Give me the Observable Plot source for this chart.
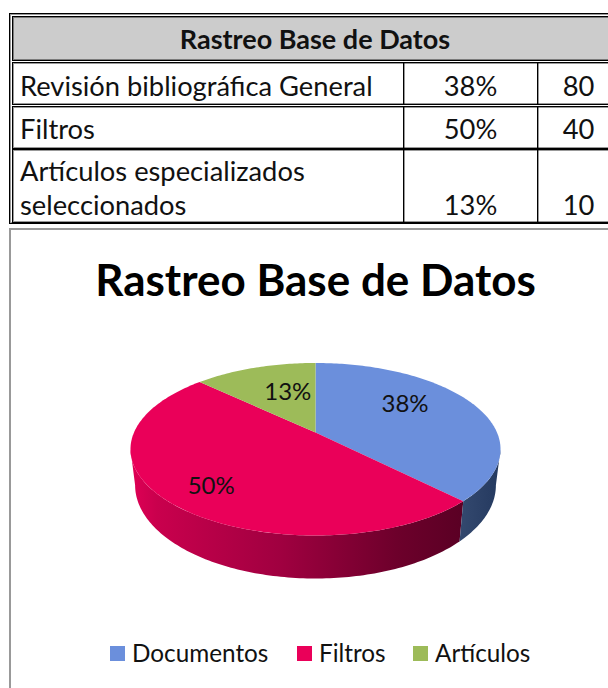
<!DOCTYPE html>
<html>
<head>
<meta charset="utf-8">
<script src="https://cdn.jsdelivr.net/npm/d3@7"></script>
<script src="https://cdn.jsdelivr.net/npm/@observablehq/plot@0.6"></script>
<style>
html,body{margin:0;padding:0;background:#fff;}
body{width:608px;height:688px;overflow:hidden;position:relative;font-family:Lato,"Open Sans",sans-serif;color:#111;}
#outer{position:absolute;left:9px;top:13px;width:640px;height:209px;border:1px solid #000;box-shadow:inset 0 0 0 1px rgba(0,0,0,.4);}
.row{position:absolute;left:12px;width:640px;box-sizing:border-box;border:1px solid #000;box-shadow:inset 0 0 0 1px rgba(0,0,0,.4);font-size:27.3px;}
.hdr{background:#ccc;text-align:center;font-weight:700;font-size:27px;line-height:44px;}
.hdr span{position:absolute;left:0;width:604px;}
.c{position:absolute;top:0;bottom:0;box-sizing:border-box;}
.lab{left:7px;width:380px;}
.pct{left:390px;width:134px;border-left:1px solid #000;box-shadow:inset 1px 0 0 rgba(0,0,0,.4);text-align:center;}
.num{left:524px;width:70px;border-left:1px solid #000;box-shadow:inset 1px 0 0 rgba(0,0,0,.4);text-align:center;padding-left:12px;}
.c span{position:absolute;left:0;right:0;bottom:0;line-height:34px;}
.num span{left:12px;}
#frame{position:absolute;left:9px;top:228px;width:640px;height:480px;border:2px solid #999;border-right:none;box-sizing:border-box;}
#title{position:absolute;left:0;top:249px;width:631px;text-align:center;font-weight:700;font-size:44px;line-height:60px;color:#000;}
#chart{position:absolute;left:0;top:320px;}
#legend{position:absolute;top:636px;left:0;height:34px;font-size:24.3px;line-height:34px;}
.sw{position:absolute;top:10px;width:15px;height:15px;}
.lt{position:absolute;top:0;white-space:nowrap;}
</style>
</head>
<body>
<div id="outer"></div>
<div id="frame"></div>
<div id="title"></div>
<div id="chart"></div>
<div id="legend"></div>
<script>
// ---- data ----
const chartTitle = "Rastreo Base de Datos";
const tableLabels = [["Revisión bibliográfica General"], ["Filtros"], ["Artículos especializados", "seleccionados"]];
const tablePercents = ["38%", "50%", "13%"];
const tableCounts = ["80", "40", "10"];
const categories = ["Documentos", "Filtros", "Artículos"];
const percents = [38, 50, 13];
const colors = ["#6b8fdc", "#ea0059", "#9dbb59"];

// ---- layout ----
const rowBoxes = [[62, 43, 1], [106, 43, 2], [149, 74, 0]];
const legendX = [[110, 132], [297, 319], [413, 435]];
const labelOffsets = [[-8, -10], [-22, 15], [10, 1]];
const tilt = 0.194;      // perspective of the disc
const depth = 0.418;     // thickness of the disc, in y units
const baseShrink = 0.975;

// ---- table ----
const el = (tag, cls, txt) => { const e = document.createElement(tag); if (cls) e.className = cls; if (txt != null) e.textContent = txt; return e; };
const hdr = el("div", "row hdr"); hdr.style.top = "16px"; hdr.style.height = "45px";
hdr.append(el("span", null, chartTitle)); document.body.append(hdr);
tableLabels.forEach((lines, i) => {
  const lift = rowBoxes[i][2];
  const r = el("div", "row"); r.style.top = rowBoxes[i][0] + "px"; r.style.height = rowBoxes[i][1] + "px";
  const a = el("div", "c lab"); lines.forEach((t, j) => { const s = el("span", null, t); s.style.bottom = ((lines.length - 1 - j) * 34 + lift) + "px"; a.append(s); });
  const p = el("div", "c pct"); const ps = el("span", null, tablePercents[i]); ps.style.bottom = lift + "px"; p.append(ps);
  const n = el("div", "c num"); const ns = el("span", null, tableCounts[i]); ns.style.bottom = lift + "px"; n.append(ns);
  r.append(a, p, n); document.body.append(r);
});
document.getElementById("title").textContent = chartTitle;

// ---- legend ----
const legend = document.getElementById("legend");
categories.forEach((c, i) => {
  const s = el("div", "sw"); s.style.left = legendX[i][0] + "px"; s.style.background = colors[i];
  const t = el("div", "lt", c); t.style.left = legendX[i][1] + "px";
  legend.append(s, t);
});

// ---- pie geometry: slices come from the values, projected onto a tilted disc ----
const slices = d3.pie().sort(null)(percents);
const project = (theta, r = 1) => {
  const w = 1 + tilt * r * Math.cos(theta);
  return { x: r * Math.sin(theta) / w, y: -r * Math.cos(theta) / w, w };
};
const deg = Math.PI / 180;
const arcAngles = (a0, a1) => { const n = Math.ceil(Math.abs(a1 - a0) / deg); return d3.range(n + 1).map(i => a0 + (a1 - a0) * i / n); };

const tops = [];
slices.forEach((s, i) => {
  tops.push({ name: categories[i], x: 0, y: 0 });
  arcAngles(s.startAngle, s.endAngle).forEach(t => { const p = project(t); tops.push({ name: categories[i], x: p.x, y: p.y }); });
});

const silhouette = Math.acos(-tilt);              // angle of the rightmost point of the rim
const sideBand = (a0, a1, name) => {
  const as = arcAngles(a0, a1);
  const top = as.map(t => { const p = project(t); return { name, x: p.x, y: p.y }; });
  const bot = as.slice().reverse().map(t => { const p = project(t); return { name, x: p.x * baseShrink, y: p.y + depth / p.w }; });
  return top.concat(bot);
};
const blueSide = sideBand(silhouette, slices[0].endAngle, categories[0]);
const redSide = sideBand(slices[1].startAngle, 2 * Math.PI - silhouette, categories[1]);

const labels = slices.map((s, i) => {
  const p = project((s.startAngle + s.endAngle) / 2, 0.6);
  return { x: p.x, y: p.y, text: percents[i] + "%", dx: labelOffsets[i][0], dy: labelOffsets[i][1] };
});

const gradient = (id, stops) => () => {
  const d = d3.create("svg:defs");
  const g = d.append("linearGradient").attr("id", id);
  stops.forEach(([o, c]) => g.append("stop").attr("offset", o).attr("stop-color", c));
  return d.node();
};

const plot = Plot.plot({
  width: 608, height: 280,
  marginTop: 0, marginRight: 0, marginBottom: 0, marginLeft: 0,
  x: { domain: [-1, 1], range: [133.5, 496.5], axis: null },
  y: { domain: [-1, 1], range: [29, 195], axis: null },
  color: { type: "ordinal", domain: categories, range: colors },
  marks: [
    gradient("redSide", [[0, "#e00055"], [0.08, "#c9004d"], [0.45, "#a00040"], [0.8, "#6d002b"], [1, "#5a0024"]]),
    gradient("blueSide", [[0, "#34496f"], [1, "#24395f"]]),
    Plot.line(redSide, { x: "x", y: "y", fill: "url(#redSide)", stroke: "none" }),
    Plot.line(blueSide, { x: "x", y: "y", fill: "url(#blueSide)", stroke: "none" }),
    Plot.line(tops, { x: "x", y: "y", z: "name", fill: "name", stroke: "none" }),
    ...labels.map(l => Plot.text([l], { x: "x", y: "y", text: "text", dx: l.dx + 1, dy: l.dy, fontSize: 24, fontFamily: "Lato", fill: "#111" }))
  ]
});
document.getElementById("chart").append(plot);
</script>
</body>
</html>
